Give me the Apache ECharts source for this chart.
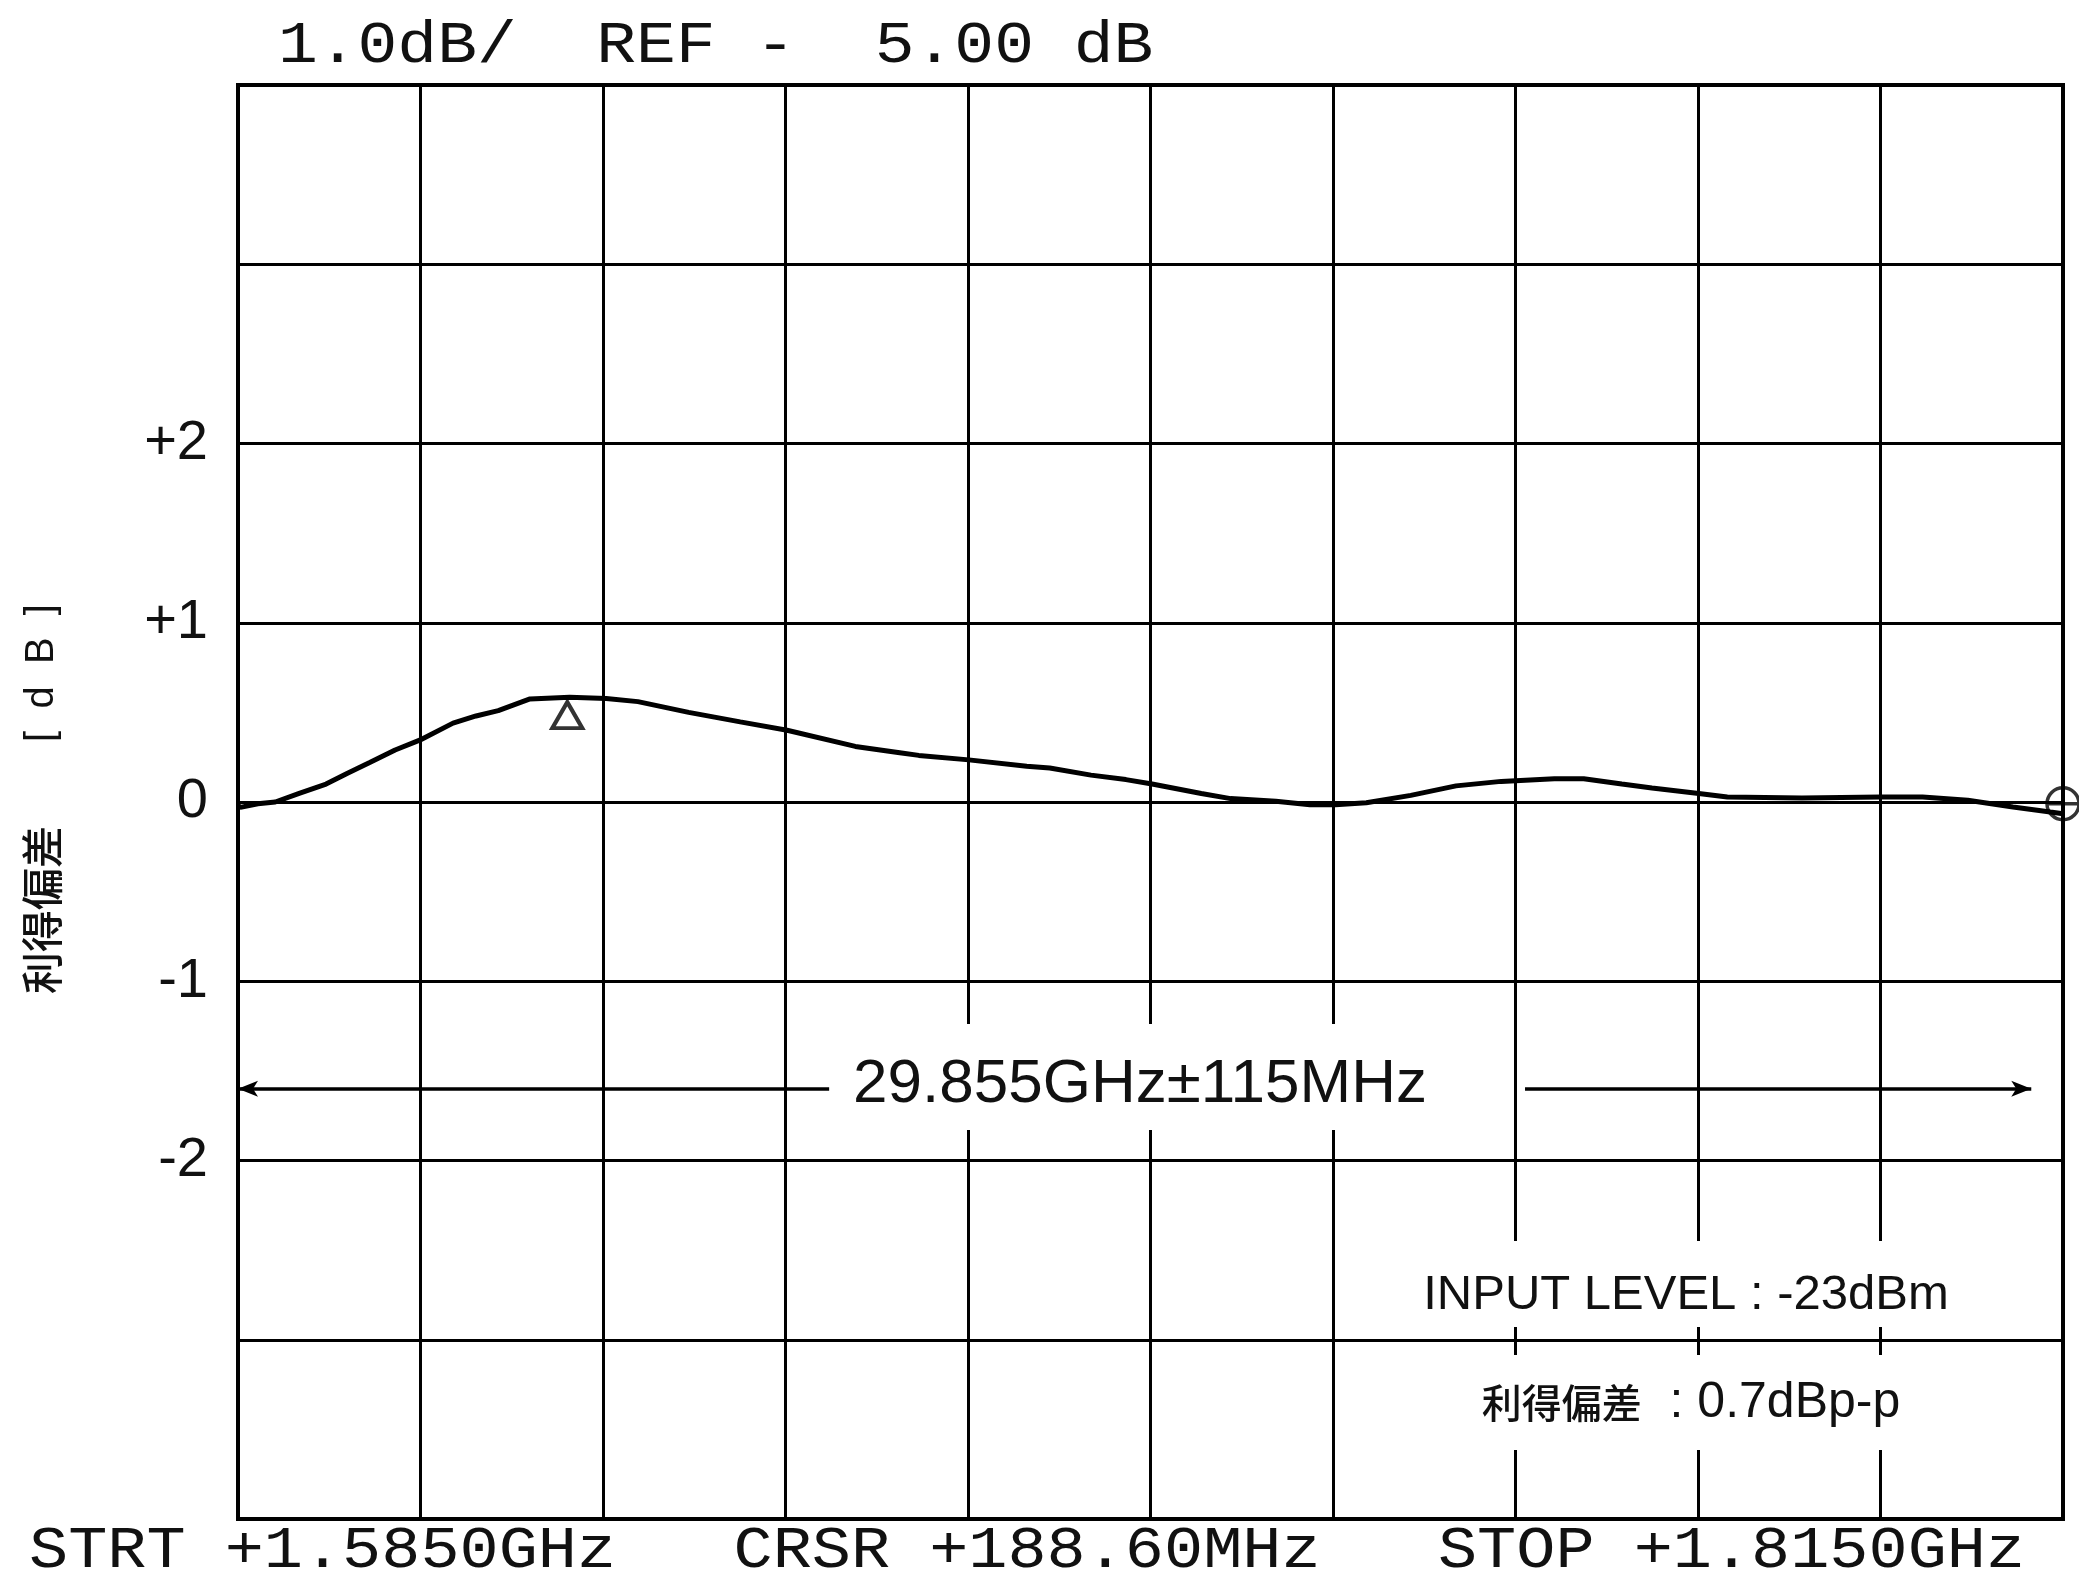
<!DOCTYPE html>
<html>
<head>
<meta charset="utf-8">
<script src="https://cdn.jsdelivr.net/npm/echarts@6/dist/echarts.min.js"></script>
<style>
  html, body { margin: 0; padding: 0; background: #ffffff; }
  #chart { width: 2079px; height: 1578px; }
</style>
</head>
<body>
<div id="chart"></div>
<script>
// Sweep: offset from the start frequency (MHz, 23 MHz per division) and gain deviation (dB)
const freqOffsetMHz = [0, 0.3, 2.5, 4.7, 7.8, 11.1, 13.8, 16.6, 19.8, 22.9, 27.1, 30.0, 32.8, 36.8, 41.8,
  46.4, 50.4, 56.8, 63.3, 69.2, 77.8, 83.4, 85.8, 92.1, 99.4, 102.3, 107.5, 111.9, 115.2, 121.4, 125.1,
  130.8, 135.1, 138.3, 142.2, 147.8, 153.5, 159.2, 165.9, 169.6, 174.4, 178.2, 184.1, 187.7, 197.1,
  207.0, 212.3, 218.0, 223.7, 228.4, 230];
const gainDeviationDb = [-0.02, -0.03, -0.01, 0.0, 0.05, 0.10, 0.16, 0.22, 0.29, 0.345, 0.44, 0.48, 0.51, 0.575, 0.585,
  0.577, 0.56, 0.50, 0.447, 0.40, 0.31, 0.275, 0.26, 0.235, 0.20, 0.19, 0.15, 0.125, 0.10, 0.047, 0.019,
  0.004, -0.015, -0.015, -0.004, 0.037, 0.09, 0.115, 0.13, 0.13, 0.10, 0.078, 0.047, 0.028, 0.022,
  0.028, 0.028, 0.01, -0.028, -0.056, -0.065];

// Y tick labels (only the inner five are printed)
const yTickLabels = { '2': '+2', '1': '+1', '0': '0', '-1': '-1', '-2': '-2' };

// Markers: delta cursor on the peak, stop-frequency marker at the end of the sweep
const cursorMarker = [41.5, 0.585];
const stopMarker = [230, -0.01];

// Band arrow (dB level and the x extents of its two halves, MHz offset)
const bandArrowDb = -1.6;
const bandLeftSegment = [0, 74.5];
const bandRightSegment = [162.2, 226];

// Texts
const headerText = '1.0dB/  REF -  5.00 dB';
const footerText = 'STRT +1.5850GHz   CRSR +188.60MHz   STOP +1.8150GHz';
const bandText = '29.855GHz±115MHz';
const inputLevelText = 'INPUT LEVEL : -23dBm';
const deviationLabel = '利得偏差';
const deviationValue = '  : 0.7dBp-p';
const yAxisTitle = '利得偏差';
const yAxisUnit = '[  d  B  ]';

const trace = freqOffsetMHz.map((f, i) => [f, gainDeviationDb[i]]);

const INK = '#000000';
const SANS = "'Liberation Sans', Arial, sans-serif";
const MONO = "'Liberation Mono', 'DejaVu Sans Mono', monospace";
const CJK = "'Noto Sans CJK JP', sans-serif";

const chart = echarts.init(document.getElementById('chart'), null, { renderer: 'canvas' });

chart.setOption({
  animation: false,
  backgroundColor: '#ffffff',
  grid: {
    left: 238, right: 16, top: 85, bottom: 59,
    show: true, borderColor: '#000', borderWidth: 4, backgroundColor: 'transparent'
  },
  xAxis: {
    type: 'value', min: 0, max: 230, interval: 23,
    axisLine: { show: true, onZero: false, lineStyle: { color: '#000', width: 4 } },
    axisTick: { show: false },
    axisLabel: { show: false },
    splitLine: { show: true, lineStyle: { color: INK, width: 3 } }
  },
  yAxis: {
    type: 'value', min: -4, max: 4, interval: 1,
    axisLine: { show: true, lineStyle: { color: '#000', width: 4 } },
    axisTick: { show: false },
    axisLabel: {
      margin: 30, fontSize: 56, fontFamily: SANS, color: '#111',
      formatter: v => yTickLabels[String(v)] || ''
    },
    splitLine: { show: true, lineStyle: { color: INK, width: 3 } }
  },
  series: [
    {
      name: 'gain',
      type: 'line',
      data: trace,
      symbol: 'none',
      smooth: false,
      lineStyle: { color: '#000', width: 5 },
      z: 5,
      silent: true,
      markLine: {
        silent: true,
        symbol: ['arrow', 'none'],
        symbolSize: [12, 20],
        label: { show: false },
        lineStyle: { color: '#000', width: 3.5, type: 'solid' },
        data: [
          [
            { coord: [bandLeftSegment[0], bandArrowDb], symbol: 'arrow' },
            { coord: [bandLeftSegment[1], bandArrowDb], symbol: 'none' }
          ],
          [
            { coord: [bandRightSegment[0], bandArrowDb], symbol: 'none' },
            { coord: [bandRightSegment[1], bandArrowDb], symbol: 'arrow' }
          ]
        ]
      }
    },
    {
      name: 'cursor',
      type: 'scatter',
      data: [cursorMarker],
      symbol: 'triangle',
      symbolSize: [30, 26],
      symbolOffset: [0, 18],
      itemStyle: { color: '#fff', borderColor: '#000', borderWidth: 4 },
      z: 6,
      silent: true
    },
    {
      name: 'stop',
      type: 'scatter',
      data: [stopMarker],
      symbol: 'path://M0,-10A10,10 0 1,1 0,10A10,10 0 1,1 0,-10ZM-10,0L10,0M0,-10L0,10',
      symbolSize: 32,
      itemStyle: { color: 'rgba(0,0,0,0)', borderColor: '#000', borderWidth: 3.5 },
      z: 6,
      silent: true
    }
  ],
  graphic: [
    // white patches that keep the graticule clear behind the annotations
    { type: 'rect', z: 90, silent: true, shape: { x: 838, y: 1024, width: 604, height: 106 }, style: { fill: '#fff' } },
    { type: 'rect', z: 90, silent: true, shape: { x: 1410, y: 1241, width: 555, height: 86 }, style: { fill: '#fff' } },
    { type: 'rect', z: 90, silent: true, shape: { x: 1455, y: 1355, width: 470, height: 95 }, style: { fill: '#fff' } },
    {
      type: 'text', z: 100, silent: true, x: 1140, y: 1085,
      style: { text: bandText, fill: '#111', font: '62px ' + SANS, textAlign: 'center', textVerticalAlign: 'middle' }
    },
    {
      type: 'text', z: 100, silent: true, x: 1686, y: 1295,
      style: { text: inputLevelText, fill: '#111', font: '49px ' + SANS, textAlign: 'center', textVerticalAlign: 'middle' }
    },
    {
      type: 'text', z: 100, silent: true, x: 1691, y: 1403,
      style: {
        text: '{c|' + deviationLabel + '}{l|' + deviationValue + '}',
        textAlign: 'center', textVerticalAlign: 'middle',
        rich: {
          c: { fontFamily: CJK, fontSize: 40, fill: '#111', fontWeight: 500 },
          l: { fontFamily: SANS, fontSize: 50, fill: '#111' }
        }
      }
    },
    {
      type: 'text', z: 100, silent: true, x: 42, y: 799, rotation: Math.PI / 2,
      style: {
        text: '{c|' + yAxisTitle + '　　}{l|' + yAxisUnit + '}',
        textAlign: 'center', textVerticalAlign: 'middle',
        rich: {
          c: { fontFamily: CJK, fontSize: 42, fill: '#111', fontWeight: 500 },
          l: { fontFamily: SANS, fontSize: 40, fill: '#111' }
        }
      }
    },
    {
      type: 'text', z: 100, silent: true, x: 278, y: 46, scaleX: 1.105,
      style: { text: headerText, fill: '#111', font: '60px ' + MONO, textAlign: 'left', textVerticalAlign: 'middle' }
    },
    {
      type: 'text', z: 100, silent: true, x: 29, y: 1551, scaleX: 1.087,
      style: { text: footerText, fill: '#111', font: '60px ' + MONO, textAlign: 'left', textVerticalAlign: 'middle' }
    }
  ]
});
</script>
</body>
</html>
